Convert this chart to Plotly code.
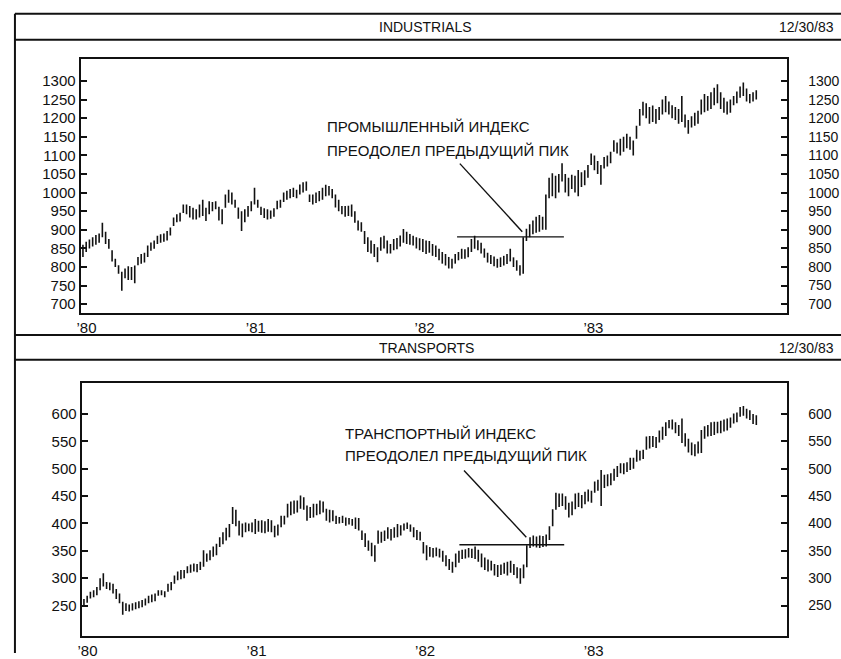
import pandas as pd
import plotly.graph_objects as go

W, H = 841, 659

# ---------------- data (weekly bars, Jan 1980 - Dec 1983) ----------------
weeks = pd.date_range("1980-01-04", periods=209, freq="7D")

ind_low = [827, 840, 850, 855, 860, 865, 880, 862, 849, 815,
           800, 782, 736, 770, 765, 765, 756, 805, 809, 812,
           827, 844, 849, 862, 865, 868, 871, 885, 910, 920,
           922, 945, 942, 933, 928, 928, 933, 937, 924, 942,
           950, 955, 925, 915, 959, 973, 968, 959, 930, 897,
           920, 935, 950, 968, 959, 940, 932, 928, 930, 935,
           955, 959, 975, 981, 985, 988, 985, 995, 1000, 1005,
           975, 968, 972, 977, 981, 990, 992, 985, 960, 950,
           942, 935, 937, 935, 919, 898, 895, 862, 840, 836,
           827, 813, 844, 850, 836, 836, 845, 848, 855, 865,
           862, 860, 858, 850, 845, 840, 835, 838, 830, 827,
           818, 809, 804, 796, 796, 809, 818, 822, 822, 826,
           840, 849, 845, 836, 825, 812, 808, 802, 798, 800,
           804, 808, 815, 800, 790, 777, 782, 870, 880, 888,
           892, 895, 900, 900, 985, 990, 985, 1000, 1030, 1000,
           990, 1010, 1000, 990, 1015, 1020, 1040, 1074, 1060, 1050,
           1021, 1065, 1070, 1079, 1110, 1105, 1100, 1110, 1119, 1115,
           1100, 1145, 1180, 1207, 1200, 1185, 1190, 1185, 1195, 1210,
           1216, 1210, 1200, 1195, 1185, 1190, 1175, 1158, 1175, 1180,
           1185, 1210, 1216, 1220, 1225, 1235, 1240, 1225, 1215, 1210,
           1215, 1235, 1240, 1255, 1260, 1245, 1240, 1245, 1250]
ind_high = [860, 868, 874, 880, 886, 890, 919, 895, 875, 845,
            822, 805, 787, 796, 802, 800, 804, 827, 835, 838,
            858, 866, 871, 884, 888, 890, 897, 906, 933, 942,
            946, 968, 968, 964, 959, 955, 968, 981, 959, 977,
            975, 977, 962, 955, 995, 1008, 1000, 981, 960, 950,
            955, 964, 977, 1013, 981, 962, 958, 955, 952, 958,
            978, 981, 1000, 1005, 1010, 1013, 1008, 1022, 1028, 1030,
            995, 995, 1000, 1004, 1013, 1021, 1018, 1010, 995, 981,
            964, 964, 965, 968, 950, 925, 920, 897, 880, 871,
            862, 853, 880, 884, 871, 862, 875, 878, 885, 902,
            895, 889, 884, 880, 877, 875, 871, 870, 862, 858,
            849, 840, 835, 827, 822, 835, 840, 849, 848, 853,
            875, 884, 872, 865, 850, 838, 832, 828, 822, 826,
            830, 835, 849, 826, 818, 805, 880, 903, 915, 925,
            935, 940, 935, 995, 1040, 1052, 1045, 1050, 1079, 1050,
            1040, 1048, 1045, 1061, 1055, 1060, 1074, 1105, 1100, 1085,
            1074, 1096, 1100, 1110, 1141, 1135, 1145, 1150, 1158, 1150,
            1140, 1180, 1225, 1244, 1240, 1230, 1234, 1225, 1230, 1250,
            1260, 1245, 1235, 1230, 1225, 1260, 1210, 1195, 1205, 1215,
            1220, 1250, 1265, 1260, 1270, 1282, 1291, 1270, 1255, 1245,
            1250, 1260, 1272, 1285, 1296, 1280, 1265, 1270, 1275]

trn_low = [248, 255, 263, 265, 269, 278, 285, 280, 278, 272,
           262, 254, 233, 240, 239, 241, 243, 245, 247, 250,
           254, 256, 258, 268, 269, 265, 275, 278, 290, 296,
           298, 300, 309, 310, 312, 311, 315, 321, 330, 333,
           339, 342, 357, 362, 369, 375, 399, 395, 378, 375,
           384, 386, 384, 381, 385, 383, 382, 385, 384, 375,
           378, 393, 398, 411, 415, 418, 420, 427, 425, 405,
           410, 411, 415, 417, 420, 405, 402, 404, 399, 400,
           401, 396, 398, 396, 390, 387, 370, 357, 350, 340,
           330, 363, 365, 368, 372, 369, 374, 375, 378, 387,
           390, 385, 375, 370, 369, 345, 333, 339, 338, 340,
           338, 330, 322, 315, 310, 320, 328, 335, 336, 338,
           337, 335, 330, 320, 315, 312, 314, 305, 302, 306,
           308, 305, 310, 306, 300, 290, 300, 320, 355, 358,
           356, 355, 357, 358, 370, 395, 425, 430, 432, 425,
           411, 415, 426, 430, 428, 435, 440, 438, 456, 460,
           432, 465, 468, 470, 478, 485, 492, 490, 494, 498,
           500, 513, 515, 518, 535, 537, 540, 538, 548, 553,
           560, 574, 572, 565, 560, 547, 541, 530, 525, 523,
           528, 529, 555, 559, 560, 562, 565, 565, 568, 570,
           575, 583, 585, 595, 597, 592, 589, 582, 580]
trn_high = [262, 268, 275, 278, 284, 300, 309, 293, 292, 290,
            280, 272, 257, 254, 252, 254, 256, 258, 260, 263,
            268, 270, 272, 278, 278, 276, 290, 293, 305, 312,
            315, 315, 322, 325, 327, 326, 330, 351, 345, 351,
            358, 363, 375, 384, 392, 399, 430, 425, 405, 400,
            402, 400, 402, 408, 405, 406, 404, 408, 406, 396,
            398, 414, 414, 436, 440, 442, 442, 451, 448, 433,
            430, 436, 436, 442, 440, 427, 425, 424, 414, 412,
            414, 411, 410, 408, 411, 410, 387, 382, 369, 365,
            360, 387, 385, 387, 393, 390, 393, 399, 397, 400,
            402, 398, 393, 388, 385, 366, 360, 357, 355, 356,
            354, 350, 342, 335, 330, 345, 350, 352, 353, 355,
            354, 358, 352, 345, 338, 334, 332, 326, 324, 325,
            328, 330, 332, 326, 320, 318, 325, 360, 375, 378,
            376, 378, 377, 380, 395, 426, 456, 455, 455, 450,
            438, 440, 455, 456, 452, 458, 462, 460, 477, 480,
            498, 489, 490, 492, 500, 505, 510, 510, 512, 520,
            520, 535, 533, 535, 559, 560, 560, 558, 570, 577,
            585, 589, 590, 585, 580, 592, 565, 555, 548, 545,
            550, 571, 578, 580, 585, 586, 586, 588, 590, 592,
            594, 601, 603, 613, 615, 610, 607, 600, 598]

ind_ticks = [700, 750, 800, 850, 900, 950, 1000, 1050, 1100, 1150, 1200, 1250, 1300]
trn_ticks = [250, 300, 350, 400, 450, 500, 550, 600]
year_ticks = ["1980-01-01", "1981-01-01", "1982-01-01", "1983-01-01"]
year_labels = ["\u201980", "\u201981", "\u201982", "\u201983"]

ind_note = ["ПРОМЫШЛЕННЫЙ ИНДЕКС", "ПРЕОДОЛЕЛ ПРЕДЫДУЩИЙ ПИК"]
trn_note = ["ТРАНСПОРТНЫЙ ИНДЕКС", "ПРЕОДОЛЕЛ ПРЕДЫДУЩИЙ ПИК"]
ind_peak = 881
trn_peak = 361

FONT = "Liberation Sans, Arial, sans-serif"
BLACK = "#111111"


def bar_xy(dates, lo, hi):
    xs, ys = [], []
    for d, l, h in zip(dates, lo, hi):
        xs += [d, d, None]
        ys += [l, h, None]
    return xs, ys


fig = go.Figure()
x1, y1 = bar_xy(weeks, ind_low, ind_high)
x2, y2 = bar_xy(weeks, trn_low, trn_high)
fig.add_trace(go.Scatter(x=x1, y=y1, mode="lines", line=dict(color=BLACK, width=1.6),
                         xaxis="x", yaxis="y", hoverinfo="skip", showlegend=False))
fig.add_trace(go.Scatter(x=x2, y=y2, mode="lines", line=dict(color=BLACK, width=1.6),
                         xaxis="x2", yaxis="y2", hoverinfo="skip", showlegend=False))


def px(x):
    return x / W


def py(y):
    return 1 - y / H


xrange = ["1979-12-30", "1984-03-06"]
tickfont = dict(family=FONT, size=15, color=BLACK)
rfont = dict(family=FONT, size=14, color=BLACK)

xcommon = dict(range=xrange, tickvals=year_ticks, ticktext=year_labels, ticks="",
               showline=True, linewidth=2, linecolor=BLACK, mirror=True,
               showgrid=False, zeroline=False, tickfont=tickfont, ticklabelshift=5)
ycommon = dict(ticks="inside", ticklen=6, tickwidth=1.5, tickcolor=BLACK,
               showline=True, linewidth=2, linecolor=BLACK, mirror="allticks",
               showgrid=False, zeroline=False, tickfont=tickfont)
yright = dict(side="right", ticks="", showline=False, showgrid=False,
              zeroline=False, tickfont=rfont, ticklabelstandoff=20)

fig.update_layout(
    width=W, height=H, margin=dict(l=0, r=0, t=0, b=0),
    paper_bgcolor="white", plot_bgcolor="white", showlegend=False,
    xaxis=dict(domain=[px(77), px(787)], anchor="y", **xcommon),
    yaxis=dict(domain=[py(316), py(60)], anchor="x", range=[676, 1358],
               tickvals=ind_ticks, **ycommon),
    yaxis3=dict(overlaying="y", anchor="x", range=[676, 1358], tickvals=ind_ticks, **yright),
    xaxis2=dict(domain=[px(78), px(787)], anchor="y2", **xcommon),
    yaxis2=dict(domain=[py(642), py(387)], anchor="x2", range=[194, 656],
                tickvals=trn_ticks, **ycommon),
    yaxis4=dict(overlaying="y2", anchor="x2", range=[194, 656], tickvals=trn_ticks, **yright),
)
# invisible markers so the right-hand axes are drawn
fig.add_trace(go.Scatter(x=[weeks[0]], y=[ind_low[0]], xaxis="x", yaxis="y3",
                         mode="markers", marker=dict(opacity=0), hoverinfo="skip"))
fig.add_trace(go.Scatter(x=[weeks[0]], y=[trn_low[0]], xaxis="x2", yaxis="y4",
                         mode="markers", marker=dict(opacity=0), hoverinfo="skip"))

shapes = []
frame = dict(type="line", xref="paper", yref="paper", line=dict(color=BLACK, width=2))
for yy in (14, 40, 338, 363):
    shapes.append(dict(frame, x0=px(11), x1=1, y0=py(yy), y1=py(yy)))
shapes.append(dict(frame, x0=px(11), x1=px(11), y0=py(14), y1=0))

# resistance lines and pointers
thin = dict(color=BLACK, width=1.4)
shapes.append(dict(type="line", xref="x", yref="y", x0="1982-03-23", x1="1982-11-09",
                   y0=ind_peak, y1=ind_peak, line=thin))
shapes.append(dict(type="line", xref="x", yref="y", x0="1982-03-29", x1="1982-08-11",
                   y0=1078, y1=895, line=thin))
shapes.append(dict(type="line", xref="x2", yref="y2", x0="1982-03-27", x1="1982-11-09",
                   y0=trn_peak, y1=trn_peak, line=thin))
shapes.append(dict(type="line", xref="x2", yref="y2", x0="1982-04-06", x1="1982-08-19",
                   y0=497, y1=375, line=thin))
fig.update_layout(shapes=shapes)

ann = []
hdr = dict(family=FONT, size=14, color=BLACK)
ann.append(dict(text="INDUSTRIALS", x=px(424), y=py(27), xref="paper", yref="paper",
                showarrow=False, font=hdr, xanchor="center", yanchor="middle"))
ann.append(dict(text="12/30/83", x=px(836), y=py(27), xref="paper", yref="paper",
                showarrow=False, font=hdr, xanchor="right", yanchor="middle"))
ann.append(dict(text="TRANSPORTS", x=px(425), y=py(351), xref="paper", yref="paper",
                showarrow=False, font=hdr, xanchor="center", yanchor="middle"))
ann.append(dict(text="12/30/83", x=px(836), y=py(351), xref="paper", yref="paper",
                showarrow=False, font=hdr, xanchor="right", yanchor="middle"))

note_font = dict(family=FONT, size=15, color=BLACK)
for txt, yv in zip(ind_note, (1177, 1113)):
    ann.append(dict(text=txt, x="1981-06-11", y=yv, xref="x", yref="y", showarrow=False,
                    font=note_font, xanchor="left", yanchor="middle"))
for txt, yv in zip(trn_note, (564, 524)):
    ann.append(dict(text=txt, x="1981-07-17", y=yv, xref="x2", yref="y2", showarrow=False,
                    font=note_font, xanchor="left", yanchor="middle"))
fig.update_layout(annotations=ann)

fig.write_html("out.html", config={"displayModeBar": False},
               post_script="document.body.style.margin='0';document.body.style.padding='0';")
